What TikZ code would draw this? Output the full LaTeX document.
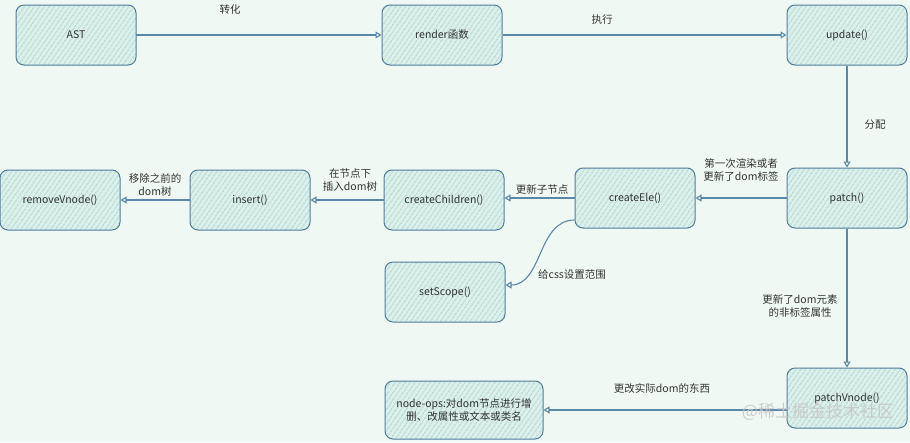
\documentclass[tikz,border=0pt]{standalone}
\usepackage{fontspec}
\setmainfont{Noto Sans CJK SC}
\usepackage{tikz}
\usetikzlibrary{arrows.meta, patterns.meta}

\definecolor{bgcol}{HTML}{F0F8F3}
\definecolor{boxfill}{HTML}{DCEFEA}
\definecolor{hatch}{HTML}{86C2B8}
\definecolor{edge}{HTML}{4F7E9C}
\definecolor{wire}{HTML}{5A88A8}
\definecolor{txt}{HTML}{333333}

\begin{document}
\begin{tikzpicture}[x=1pt, y=-1pt,
		font=\fontsize{10.5}{13}\selectfont, text=txt,
		block/.style={draw=edge, line width=1pt, rounded corners=8pt,
			minimum width=120pt, minimum height=60pt, align=center,
			preaction={fill=boxfill},
			pattern={Lines[angle=55, distance=4pt, line width=0.7pt]}, pattern color=hatch},
		flow/.style={wire, line width=1.1pt, -{Triangle[open, width=7pt, length=6pt]}},
		lbl/.style={align=center, inner sep=1pt}]

		% background
		\fill[bgcol] (0,0) rectangle (910,442);
		\useasboundingbox (0,0) rectangle (910,442);

		\begin{scope}
			\node [block] (ast)    at (76,35)   {AST};
			\node [block] (render) at (442,35)  {render函数};
			\node [block] (update) at (847,35)  {update()};
			\node [block] (patch)  at (847,198) {patch()};
			\node [block] (ele)    at (635,198) {createEle()};
			\node [block] (child)  at (444,200) {createChildren()};
			\node [block] (insert) at (250,200) {insert()};
			\node [block] (remove) at (60,200)  {removeVnode()};
			\node [block] (scope)  at (445,292) {setScope()};
			\node [block] (pvnode) at (847,398) {patchVnode()};
			\node [block, minimum width=158pt, minimum height=58pt] (ops) at (464,410)
				{node-ops:对dom节点进行增\\删、改属性或文本或类名};
		\end{scope}

		\begin{scope}[flow]
			\draw (ast) -- (render);
			\draw (render) -- (update);
			\draw (update) -- (patch);
			\draw (patch) -- (ele);
			\draw (ele.west) -- (child.east |- ele.west);
			\draw (child) -- (insert);
			\draw (insert) -- (remove);
			\draw ([yshift=-22pt]ele.west) to[out=180, in=0] ([yshift=7pt]scope.east);
			\draw (patch) -- (pvnode);
			\draw (pvnode.west |- ops.east) -- (ops.east);
		\end{scope}

		\node [lbl] (l1) at (230,10)  {转化};
		\node [lbl] (l2) at (602,20)  {执行};
		\node [lbl] (l3) at (875,125) {分配};
		\node [lbl] (l4) at (741,170) {第一次渲染或者\\更新了dom标签};
		\node [lbl] (l5) at (542,189) {更新子节点};
		\node [lbl] (l6) at (350,180) {在节点下\\插入dom树};
		\node [lbl] (l7) at (155,185) {移除之前的\\dom树};
		\node [lbl] (l8) at (572,275) {给css设置范围};
		\node [lbl] (l9) at (800,306) {更新了dom元素\\的非标签属性};
		\node [lbl] (l10) at (662,388) {更改实际dom的东西};

		\node [text=gray!45, opacity=0.85, font=\fontsize{17}{20}\selectfont] (mark) at (818,412) {@稀土掘金技术社区};
\end{tikzpicture}
\end{document}
